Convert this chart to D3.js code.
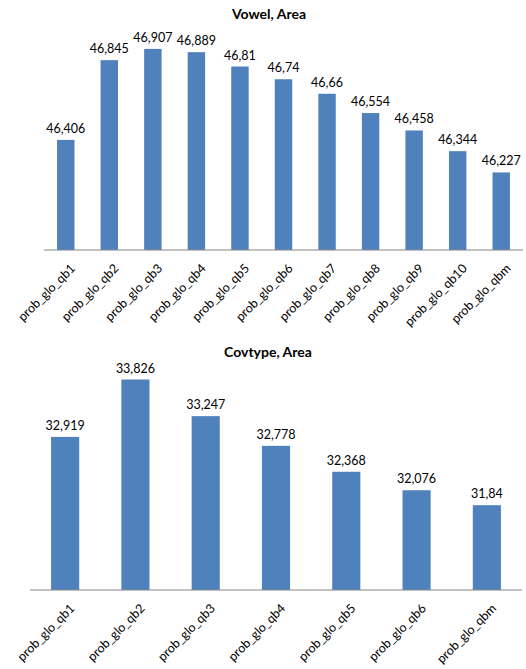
<!DOCTYPE html>
<html><head><meta charset="utf-8">
<script src="https://cdn.jsdelivr.net/npm/d3@7"></script>
<style>body{margin:0;background:#fff}svg{display:block}</style>
</head><body>
<svg id="c" width="526" height="669"></svg>
<script>
const vowelTitle = "Vowel, Area";
const vowelCategories = ["prob_glo_qb1","prob_glo_qb2","prob_glo_qb3","prob_glo_qb4","prob_glo_qb5","prob_glo_qb6","prob_glo_qb7","prob_glo_qb8","prob_glo_qb9","prob_glo_qb10","prob_glo_qbm"];
const vowelValues = [46.406,46.845,46.907,46.889,46.81,46.74,46.66,46.554,46.458,46.344,46.227];
const vowelLabels = ["46,406","46,845","46,907","46,889","46,81","46,74","46,66","46,554","46,458","46,344","46,227"];
const vowelDomain = [45.8, 47.0];

const covTitle = "Covtype, Area";
const covCategories = ["prob_glo_qb1","prob_glo_qb2","prob_glo_qb3","prob_glo_qb4","prob_glo_qb5","prob_glo_qb6","prob_glo_qbm"];
const covValues = [32.919,33.826,33.247,32.778,32.368,32.076,31.84];
const covLabels = ["32,919","33,826","33,247","32,778","32,368","32,076","31,84"];
const covDomain = [30.5, 34.0];

const svg = d3.select("#c");
const FONT = "Lato, 'Open Sans', sans-serif";

function drawChart(cfg) {
  const g = svg.append("g");
  const x = d3.scaleBand().domain(cfg.categories).range([cfg.x0, cfg.x1]).paddingInner(cfg.pad).paddingOuter(cfg.pad/2);
  const y = d3.scaleLinear().domain(cfg.domain).range([cfg.yBase, cfg.yTop]);
  g.append("text").attr("x", cfg.titleX).attr("y", cfg.titleY)
    .attr("text-anchor","middle").attr("font-family",FONT).attr("font-weight","bold")
    .attr("font-size",14).attr("fill","#000").text(cfg.title);
  g.selectAll("rect.bar").data(cfg.values).join("rect").attr("class","bar")
    .attr("x",(d,i)=>x(cfg.categories[i]))
    .attr("width",x.bandwidth())
    .attr("y",d=>y(d))
    .attr("height",d=>cfg.yBase-y(d))
    .attr("fill","#4F81BD");
  g.selectAll("text.val").data(cfg.values).join("text").attr("class","val")
    .attr("x",(d,i)=>x(cfg.categories[i])+x.bandwidth()/2)
    .attr("y",d=>y(d)-7)
    .attr("text-anchor","middle").attr("font-family",FONT).attr("font-size",12.5)
    .attr("fill","#000").text((d,i)=>cfg.labels[i]);
  const axis = d3.axisBottom(x).tickSize(0).tickPadding(0);
  const ax = g.append("g").attr("transform",`translate(0,${cfg.yBase})`).call(axis);
  ax.select(".domain").attr("stroke","#868686").attr("stroke-width",1.2).attr("d",`M${cfg.axStart},0H${cfg.x1}`);
  ax.selectAll(".tick text")
    .attr("font-family",FONT).attr("font-size",12.5).attr("fill","#000")
    .attr("text-anchor","end")
    .attr("transform","translate(4,13) rotate(-45)")
    .attr("dy","0.7em").attr("y",0).attr("x",0);
}

drawChart({title:vowelTitle, categories:vowelCategories, values:vowelValues, labels:vowelLabels, domain:vowelDomain,
  x0:44, x1:523, axStart:44, pad:0.6, yBase:250, yTop:32, titleX:269, titleY:19});
drawChart({title:covTitle, categories:covCategories, values:covValues, labels:covLabels, domain:covDomain,
  x0:30, x1:522, axStart:30, pad:0.6, yBase:590, yTop:368.5, titleX:268, titleY:357});
</script>
</body></html>
